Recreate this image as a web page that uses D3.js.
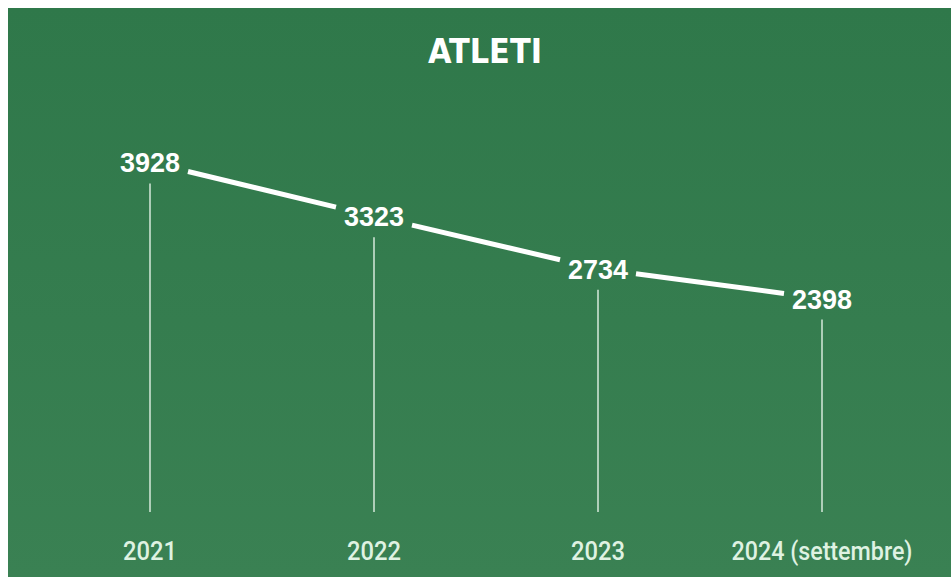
<!DOCTYPE html>
<html><head><meta charset="utf-8">
<script src="https://cdn.jsdelivr.net/npm/d3@7"></script>
<style>html,body{margin:0;padding:0;background:#fff;}svg{display:block;}</style>
</head><body>
<script>
const years = ["2021", "2022", "2023", "2024"];
const yearLabels = ["2021", "2022", "2023", "2024 (settembre)"];
const athletes = [3928, 3323, 2734, 2398];
const title = "ATLETI";

const W = 951, H = 577;
const svg = d3.select("body").append("svg").attr("width", W).attr("height", H);
const defs = svg.append("defs");
const grad = defs.append("linearGradient").attr("id","bg").attr("x1",0).attr("y1",0).attr("x2",0).attr("y2",1);
grad.append("stop").attr("offset","0%").attr("stop-color","#2f784a");
grad.append("stop").attr("offset","100%").attr("stop-color","#3a8153");
svg.append("rect").attr("x",8).attr("y",8).attr("width",W-8).attr("height",H-8).attr("fill","url(#bg)");

const x = d3.scalePoint().domain(years).range([150, 822]);
const y = d3.scaleLinear().domain([0, 4000]).range([512, 156]);

svg.append("text").attr("x", 485).attr("y", 63).attr("text-anchor","middle")
  .attr("fill","#fff").attr("font-family","'DejaVu Sans Condensed','DejaVu Sans',sans-serif")
  .attr("font-weight","bold").attr("font-size",34)
  .attr("textLength",114).attr("lengthAdjust","spacingAndGlyphs").text(title);

const data = years.map((yr,i)=>({yr, v: athletes[i], lab: yearLabels[i]}));

// vertical drop lines
svg.selectAll("line.drop").data(data).join("line").attr("class","drop")
  .attr("x1", d=>x(d.yr)).attr("x2", d=>x(d.yr))
  .attr("y1", d=>y(d.v)+21).attr("y2", y(0))
  .attr("stroke","#e8f5ea").attr("stroke-width",1.6).attr("stroke-opacity",0.85);

// line segments with gaps around labels
const gap = 38;
const segs = d3.pairs(data).map(([a,b])=>{
  const x0=x(a.yr), y0=y(a.v), x1=x(b.yr), y1=y(b.v);
  const s=(y1-y0)/(x1-x0);
  return {x0:x0+gap, y0:y0+s*gap, x1:x1-gap, y1:y1-s*gap};
});
svg.selectAll("line.seg").data(segs).join("line").attr("class","seg")
  .attr("x1",d=>d.x0).attr("y1",d=>d.y0).attr("x2",d=>d.x1).attr("y2",d=>d.y1)
  .attr("stroke","#fff").attr("stroke-width",5);

// value labels
svg.selectAll("text.val").data(data).join("text").attr("class","val")
  .attr("x", d=>x(d.yr)).attr("y", d=>y(d.v)+10)
  .attr("text-anchor","middle").attr("fill","#fff")
  .attr("font-family","'Liberation Sans',Arial,sans-serif").attr("font-weight","bold")
  .attr("font-size",27).attr("textLength",60).attr("lengthAdjust","spacingAndGlyphs")
  .text(d=>d.v);

// year labels
svg.selectAll("text.yr").data(data).join("text").attr("class","yr")
  .attr("x", d=>x(d.yr)).attr("y", 560)
  .attr("text-anchor","middle").attr("fill","#dff2e2")
  .attr("font-family","Roboto,'DejaVu Sans',sans-serif").attr("font-weight",500)
  .attr("font-size",25)
  .attr("textLength", d=> d.lab.length>4 ? 181 : 54).attr("lengthAdjust","spacingAndGlyphs")
  .text(d=>d.lab);
</script>
</body></html>
